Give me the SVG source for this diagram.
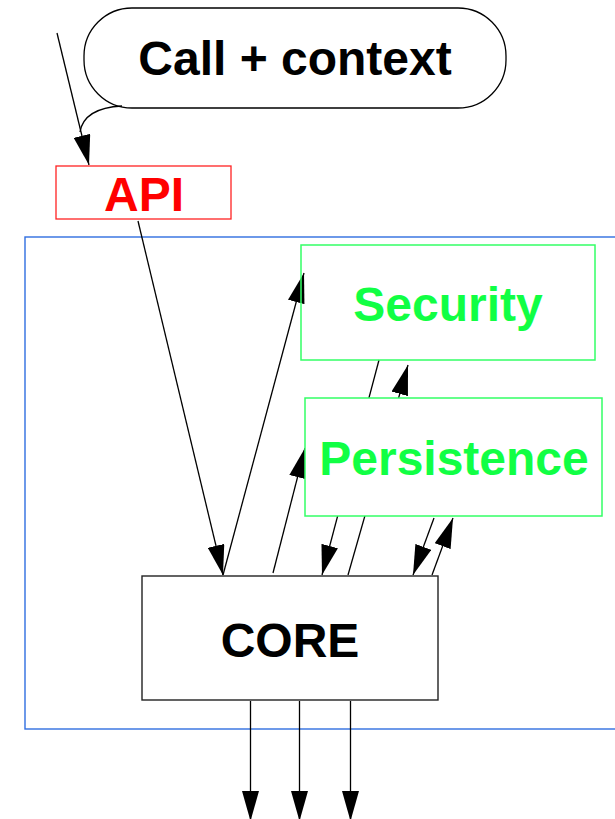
<svg xmlns="http://www.w3.org/2000/svg" width="615" height="819" viewBox="0 0 615 819">
  <style>
    .lbl { font-family: "Liberation Sans", Arial, sans-serif; font-weight: bold; font-size: 48px; text-anchor: middle; }
    .edge { stroke: #000; stroke-width: 1.3; fill: none; marker-end: url(#arrow); }
    .plain { stroke: #000; stroke-width: 1.3; fill: none; }
    .green { stroke: #33ff66; stroke-width: 1.5; }
  </style>
  <defs>
    <marker id="arrow" markerUnits="userSpaceOnUse" markerWidth="30" markerHeight="17" viewBox="0 0 30 17" refX="30" refY="8.5" orient="auto">
      <path d="M0,0 L30,8.5 L0,17 Z" fill="#000"/>
    </marker>
  </defs>
  <rect width="615" height="819" fill="#fff"/>

  <!-- system boundary -->
  <rect id="boundary" x="25" y="237" width="620" height="492" fill="none" stroke="#2f6ee0" stroke-width="1.4"/>

  <g id="connectors">
    <line class="edge" x1="57" y1="33" x2="89" y2="165"/>
    <line class="edge" x1="138" y1="221" x2="223" y2="575"/>
    <line class="edge" x1="223" y1="575" x2="304" y2="273"/>
    <line class="edge" x1="379" y1="360" x2="322" y2="575"/>
    <line class="edge" x1="348" y1="575" x2="408" y2="365"/>
    <line class="edge" x1="273" y1="573" x2="305" y2="448"/>
    <line class="edge" x1="434" y1="518" x2="413" y2="575"/>
    <line class="edge" x1="432" y1="575" x2="453" y2="518"/>
    <line class="edge" x1="250.5" y1="701" x2="250.5" y2="821"/>
    <line class="edge" x1="299.5" y1="701" x2="299.5" y2="821"/>
    <line class="edge" x1="350.5" y1="701" x2="350.5" y2="821"/>
  </g>

  <g id="call-context">
    <rect x="84" y="8" width="422" height="100" rx="48" ry="48" fill="none" stroke="#000" stroke-width="1.3"/>
    <path class="plain" d="M122,106 Q84,108 80,132"/>
    <text class="lbl" x="295" y="75" fill="#000">Call + context</text>
  </g>

  <g id="api">
    <rect x="56" y="166" width="175" height="53" fill="#fff" stroke="#ff2222" stroke-width="1.3"/>
    <text class="lbl" x="144" y="211" fill="#ff0000">API</text>
  </g>

  <g id="security">
    <rect class="green" x="301" y="245" width="294" height="115" fill="none"/>
    <text class="lbl" x="448" y="321" fill="#11ff44">Security</text>
  </g>

  <g id="persistence">
    <rect class="green" x="305" y="398" width="297" height="118" fill="#fff"/>
    <text class="lbl" x="454" y="475" fill="#11ff44">Persistence</text>
  </g>

  <g id="core">
    <rect x="142" y="576" width="296" height="124" fill="none" stroke="#222" stroke-width="1.4"/>
    <text class="lbl" x="290" y="657" fill="#000">CORE</text>
  </g>
</svg>
